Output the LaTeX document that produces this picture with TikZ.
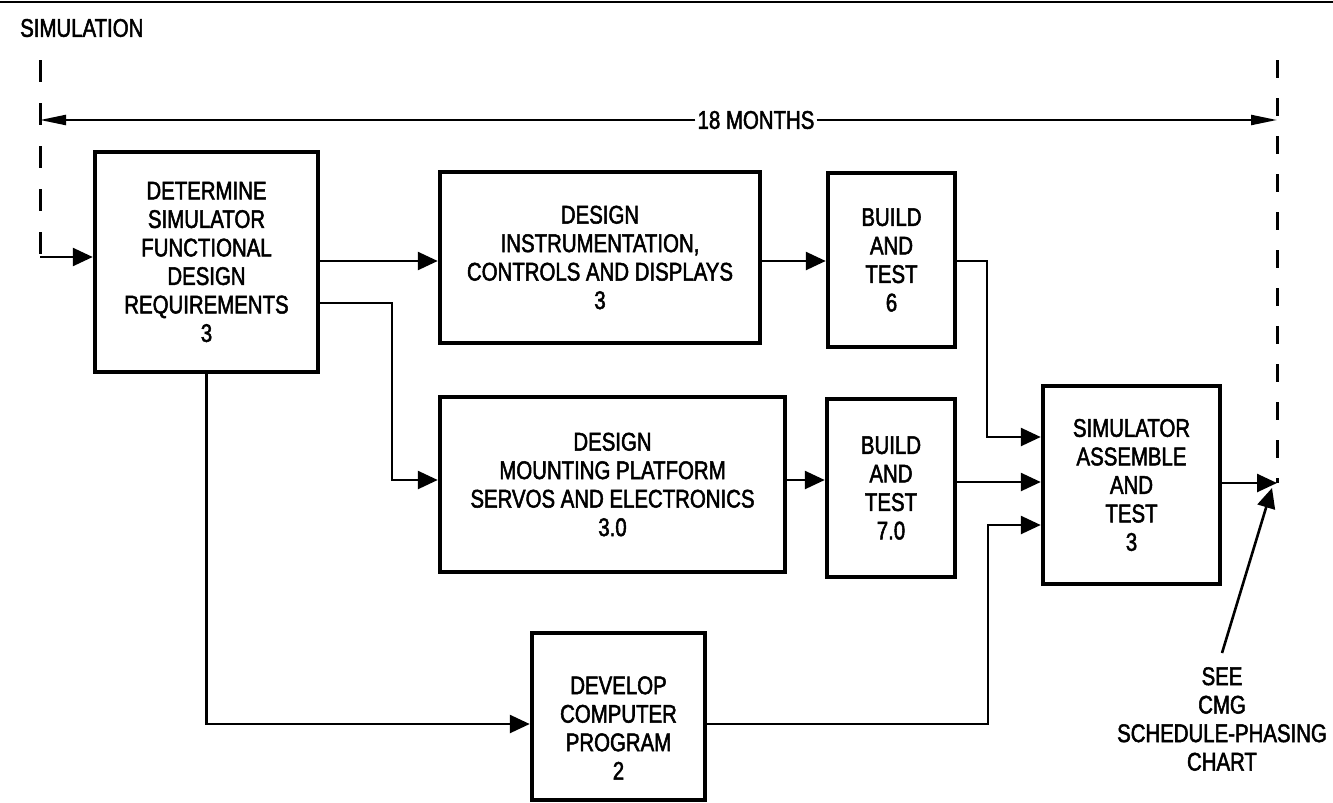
\documentclass[tikz,border=0pt]{standalone}
\usepackage{fontspec}
\setmainfont[FakeStretch=0.80, FakeBold=2]{Liberation Sans}
\usetikzlibrary{arrows.meta}
\begin{document}
\begin{tikzpicture}[x=1pt,y=-1pt,
  lbl/.style={align=center, inner sep=0pt, font=\fontsize{25.5pt}{28.5pt}\selectfont},
  box/.style={lbl, draw, line width=4.5pt},
  conn/.style={line width=2.6pt},
  arr/.style={conn, -{Triangle[length=20pt,width=18pt]}},
  dimtip/.style={line width=2.2pt, -{Triangle[length=26pt,width=10pt]}},
  ldash/.style={line width=3pt, dash pattern=on 22pt off 21pt},
  rdash/.style={line width=3pt, dash pattern=on 18pt off 20pt},
]
\useasboundingbox (0,0) rectangle (1333,803);
\draw[line width=2.5pt] (0,2) -- (1333,2);

\node[lbl, anchor=west] (title) at (20,28) {SIMULATION};

% boxes
\node[box, minimum width=223pt, minimum height=220pt] (box1) at (206.5,262)
  {DETERMINE\\SIMULATOR\\FUNCTIONAL\\DESIGN\\REQUIREMENTS\\3};
\node[box, minimum width=320pt, minimum height=171pt] (box2) at (600,257.5)
  {DESIGN\\INSTRUMENTATION,\\CONTROLS AND DISPLAYS\\3};
\node[box, minimum width=127pt, minimum height=174pt] (b6) at (891.5,260)
  {BUILD\\AND\\TEST\\6};
\node[box, minimum width=345pt, minimum height=175pt] (box3) at (612.5,484.5)
  {DESIGN\\MOUNTING PLATFORM\\SERVOS AND ELECTRONICS\\3.0};
\node[box, minimum width=128pt, minimum height=178pt] (b7) at (891,488)
  {BUILD\\AND\\TEST\\7.0};
\node[box, minimum width=177pt, minimum height=198pt] (sim) at (1131.5,485)
  {SIMULATOR\\ASSEMBLE\\AND\\TEST\\3};
\node[box, minimum width=173pt, minimum height=167pt] (comp) at (618.5,716.5) {};
\node[lbl] (compt) at (618.5,728) {DEVELOP\\COMPUTER\\PROGRAM\\2};
\node[lbl] (note) at (1222,719) {SEE\\CMG\\SCHEDULE-PHASING\\CHART};

% dashed limits and span
\coordinate (Ltop) at (40,60);
\coordinate (inL) at (40,257);
\coordinate (Rtop) at (1277,60);
\coordinate (Rend) at (1277,483);
\draw[ldash] (Ltop) -- (inL);
\draw[rdash] (Rtop) -- (Rend);
\coordinate (dL) at (40,120);
\coordinate (dR) at (1277,120);
\node[lbl, inner xsep=2pt] (months) at (756,120) {18 MONTHS};
\draw[dimtip] (months.west) -- (dL);
\draw[dimtip] (months.east) -- (dR);

% helper rows
\coordinate (r1) at (0,261);
\coordinate (j1) at (392,303);
\coordinate (r2) at (0,480);
\coordinate (r3) at (0,482);
\coordinate (j2) at (987,437);
\coordinate (cin) at (0,724);
\coordinate (j4) at (988,525);

% connectors
\draw[arr] (inL) -- (inL -| box1.west);
\draw[arr] (r1 -| box1.east) -- (r1 -| box2.west);
\draw[arr] (r1 -| box2.east) -- (r1 -| b6.west);
\draw[arr] (j1 -| box1.east) -- (j1) |- (r2 -| box3.west);
\draw[arr] (r2 -| box3.east) -- (r2 -| b7.west);
\draw[arr] (r3 -| b7.east) -- (r3 -| sim.west);
\draw[arr] (r1 -| b6.east) -| (j2) -- (j2 -| sim.west);
\draw[arr] (cin -| comp.east) -| (j4) -- (j4 -| sim.west);
\draw[arr] (box1.south) |- (cin -| comp.west);
\draw[arr] (Rend -| sim.east) -- (Rend);

\coordinate (ptrS) at (1222,653);
\coordinate (ptrE) at (1272,488);
\draw[arr] (ptrS) -- (ptrE);
\end{tikzpicture}
\end{document}
